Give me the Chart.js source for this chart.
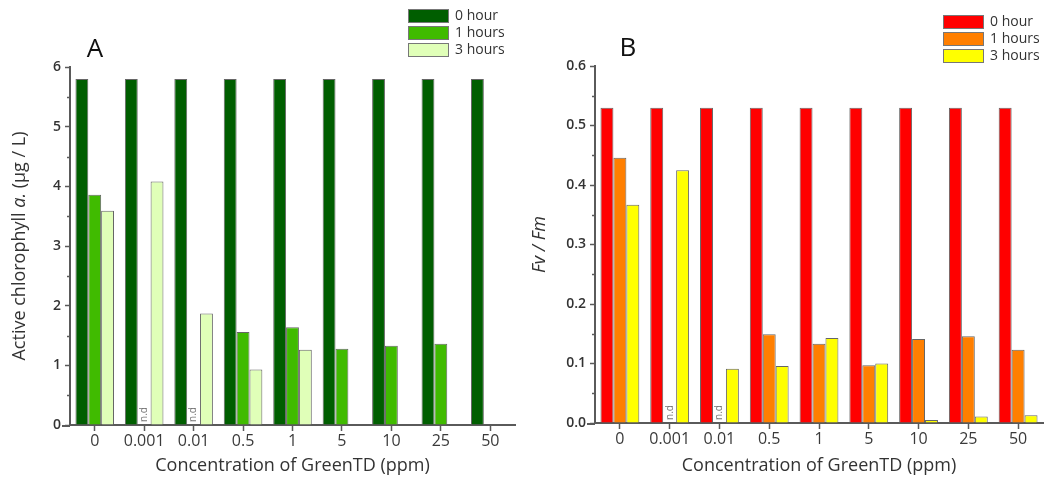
<!DOCTYPE html>
<html>
<head>
<meta charset="utf-8">
<script src="https://cdn.jsdelivr.net/npm/chart.js@4.4.1/dist/chart.umd.min.js"></script>
<style>
  body { margin: 0; background: #fff; }
  .wrap { display: flex; width: 1048px; height: 487px; }
  .panel { position: relative; width: 524px; height: 487px; }
</style>
</head>
<body>
<div class="wrap">
  <div class="panel"><canvas id="chartA" width="524" height="487"></canvas></div>
  <div class="panel"><canvas id="chartB" width="524" height="487"></canvas></div>
</div>
<script>
const categories = ['0', '0.001', '0.01', '0.5', '1', '5', '10', '25', '50']
const seriesLabels = ['0 hour', '1 hours', '3 hours']

// panel A: active chlorophyll a (ug/L)
const chl0h = [5.8, 5.8, 5.8, 5.8, 5.8, 5.8, 5.8, 5.8, 5.8]
const chl1h = [3.86, null, null, 1.56, 1.64, 1.28, 1.33, 1.36, null]
const chl3h = [3.59, 4.08, 1.87, 0.93, 1.26, null, null, null, null]

// panel B: Fv / Fm
const fv0h = [0.53, 0.53, 0.53, 0.53, 0.53, 0.53, 0.53, 0.53, 0.53]
const fv1h = [0.446, null, null, 0.149, 0.133, 0.097, 0.141, 0.146, 0.123]
const fv3h = [0.367, 0.425, 0.091, 0.096, 0.143, 0.1, 0.005, 0.011, 0.013]

// categories where the 1 hour value was not detected
const ndCategories = ['0.001', '0.01']

const FONT = "'Open Sans', 'Noto Sans', sans-serif"
const TEXT = '#333'
const AXIS = '#5a5a5a'

// letter, legend, y title, minor ticks and n.d labels
const extras = {
  id: 'extras',
  afterDraw(chart, args, o) {
    const ctx = chart.ctx
    const area = chart.chartArea
    ctx.save()

    // minor ticks on y, and the small x axis overhang
    const ys = chart.scales.y
    ctx.strokeStyle = AXIS
    ctx.lineWidth = 1.5
    ys.ticks.forEach((t, i) => {
      if (i % 2 === 0) return
      const py = Math.round(ys.getPixelForValue(t.value)) + 0.5
      ctx.beginPath()
      ctx.moveTo(area.left - 3, py)
      ctx.lineTo(area.left, py)
      ctx.stroke()
    })
    ctx.lineWidth = 2
    ctx.beginPath()
    ctx.moveTo(area.left - 8, area.bottom + 1)
    ctx.lineTo(area.left, area.bottom + 1)
    ctx.stroke()

    // panel letter
    ctx.fillStyle = '#111'
    ctx.font = `26px ${FONT}`
    ctx.textAlign = 'center'
    ctx.textBaseline = 'alphabetic'
    ctx.fillText(o.letter, o.letterX, o.letterY)

    // legend
    ctx.font = `14px ${FONT}`
    ctx.textAlign = 'left'
    ctx.textBaseline = 'middle'
    chart.data.datasets.forEach((ds, i) => {
      const y = o.legendY + i * 17
      ctx.fillStyle = ds.backgroundColor
      ctx.fillRect(o.legendX, y, 41, 14)
      ctx.strokeStyle = '#777'
      ctx.lineWidth = 1
      ctx.strokeRect(o.legendX + 0.5, y + 0.5, 40, 13)
      ctx.fillStyle = TEXT
      ctx.fillText(ds.label, o.legendX + 47, y + 7)
    })

    // y axis title, mixed italic
    ctx.translate(o.yTitleX, (area.top + area.bottom) / 2)
    ctx.rotate(-Math.PI / 2)
    ctx.fillStyle = TEXT
    ctx.textBaseline = 'middle'
    const fontOf = (p) => `${p.italic ? 'italic ' : ''}18px ${FONT}`
    let total = 0
    o.yTitle.forEach((p) => {
      ctx.font = fontOf(p)
      total += ctx.measureText(p.text).width
    })
    let x = -total / 2
    o.yTitle.forEach((p) => {
      ctx.font = fontOf(p)
      ctx.fillText(p.text, x, 0)
      x += ctx.measureText(p.text).width
    })
    ctx.restore()

    // n.d labels
    const xs = chart.scales.x
    ctx.save()
    ctx.fillStyle = '#777'
    ctx.font = `10px ${FONT}`
    ctx.textAlign = 'left'
    ctx.textBaseline = 'middle'
    ndCategories.forEach((c) => {
      const px = xs.getPixelForValue(categories.indexOf(c))
      ctx.save()
      ctx.translate(px, area.bottom - 3)
      ctx.rotate(-Math.PI / 2)
      ctx.fillText('n.d', 0, 0)
      ctx.restore()
    })
    ctx.restore()
  },
}

function makePanel(id, data, colors, opts) {
  const datasets = data.map((d, i) => ({
    label: seriesLabels[i],
    data: d,
    backgroundColor: colors[i],
    borderColor: '#666',
    borderWidth: 1,
    barPercentage: 1,
    categoryPercentage: 0.78,
  }))

  return new Chart(document.getElementById(id), {
    type: 'bar',
    data: {labels: categories, datasets},
    options: {
      responsive: false,
      animation: false,
      layout: {padding: {left: 0, right: opts.padRight, top: opts.padTop, bottom: 0}},
      scales: {
        x: {
          grid: {display: true, drawOnChartArea: false, offset: false, tickLength: 6, tickColor: AXIS, tickWidth: 1.5},
          border: {color: AXIS, width: 2},
          ticks: {color: '#3a3a3a', font: {family: FONT, size: 16}, padding: 1, maxRotation: 0},
          title: {display: true, text: 'Concentration of GreenTD (ppm)', color: TEXT, font: {family: FONT, size: 18}, padding: {top: 4, bottom: 10}},
          afterFit: (s) => { s.height = opts.xHeight },
        },
        y: {
          min: 0,
          max: opts.yMax,
          grid: {
            display: true,
            drawOnChartArea: false,
            tickLength: 5,
            tickWidth: 1.5,
            tickColor: (c) => (c.index % 2 ? 'transparent' : AXIS),
          },
          border: {color: AXIS, width: 2},
          ticks: {
            stepSize: opts.yStep / 2,
            color: TEXT,
            font: {family: FONT, size: 14, weight: '600'},
            padding: 4,
            callback: (v, i) => (i % 2 ? '' : opts.fmt(v)),
          },
          afterFit: (s) => { s.width = opts.yWidth },
        },
      },
      plugins: {
        legend: {display: false},
        tooltip: {enabled: false},
        extras: opts.extras,
      },
    },
    plugins: [extras],
  })
}

makePanel('chartA', [chl0h, chl1h, chl3h], ['#005e00', '#40bb00', '#e0ffb8'], {
  padRight: 9, padTop: 67, xHeight: 62, yWidth: 70, yMax: 6, yStep: 1,
  fmt: (v) => String(v),
  extras: {
    letter: 'A', letterX: 95, letterY: 57,
    legendX: 408, legendY: 9,
    yTitleX: 20,
    yTitle: [{text: 'Active chlorophyll '}, {text: 'a.', italic: true}, {text: ' (\u03bcg / L)'}],
  },
})

makePanel('chartB', [fv0h, fv1h, fv3h], ['#ff0000', '#ff7f00', '#ffff00'], {
  padRight: 5, padTop: 66, xHeight: 64, yWidth: 71, yMax: 0.6, yStep: 0.1,
  fmt: (v) => v.toFixed(1),
  extras: {
    letter: 'B', letterX: 104, letterY: 56,
    legendX: 419, legendY: 15,
    yTitleX: 16,
    yTitle: [{text: 'Fv / Fm', italic: true}],
  },
})
</script>
</body>
</html>
